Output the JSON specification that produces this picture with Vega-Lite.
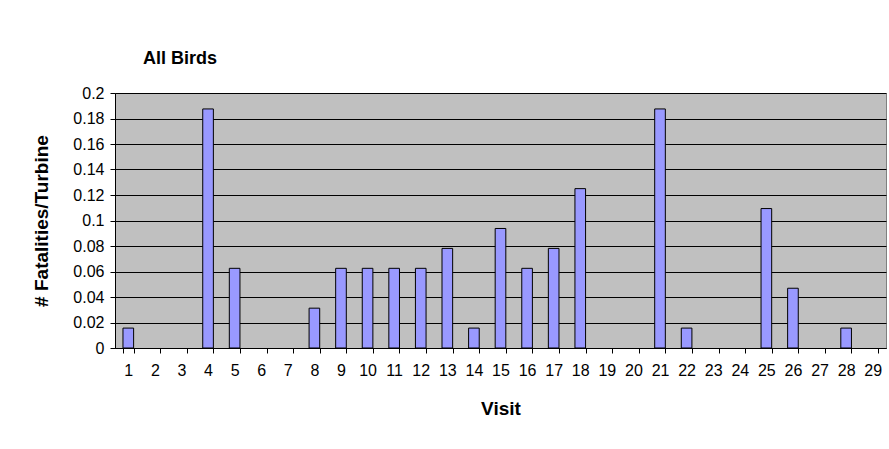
{
  "$schema": "https://vega.github.io/schema/vega-lite/v6.json",
  "width": 771,
  "height": 255,
  "autosize": "none",
  "padding": {"left": 115, "top": 93, "right": 3, "bottom": 101},
  "background": "white",
  "title": {
    "text": "All Birds",
    "anchor": "start",
    "frame": "group",
    "dx": 28,
    "offset": 17,
    "font": "Liberation Sans",
    "fontSize": 18,
    "fontWeight": "bold",
    "color": "black"
  },
  "data": {
    "values": [
      {"visit": 1, "rate": 0.015625},
      {"visit": 2, "rate": 0},
      {"visit": 3, "rate": 0},
      {"visit": 4, "rate": 0.1875},
      {"visit": 5, "rate": 0.0625},
      {"visit": 6, "rate": 0},
      {"visit": 7, "rate": 0},
      {"visit": 8, "rate": 0.03125},
      {"visit": 9, "rate": 0.0625},
      {"visit": 10, "rate": 0.0625},
      {"visit": 11, "rate": 0.0625},
      {"visit": 12, "rate": 0.0625},
      {"visit": 13, "rate": 0.078125},
      {"visit": 14, "rate": 0.015625},
      {"visit": 15, "rate": 0.09375},
      {"visit": 16, "rate": 0.0625},
      {"visit": 17, "rate": 0.078125},
      {"visit": 18, "rate": 0.125},
      {"visit": 19, "rate": 0},
      {"visit": 20, "rate": 0},
      {"visit": 21, "rate": 0.1875},
      {"visit": 22, "rate": 0.015625},
      {"visit": 23, "rate": 0},
      {"visit": 24, "rate": 0},
      {"visit": 25, "rate": 0.109375},
      {"visit": 26, "rate": 0.046875},
      {"visit": 27, "rate": 0},
      {"visit": 28, "rate": 0.015625},
      {"visit": 29, "rate": 0}
    ]
  },
  "mark": {"type": "bar", "fill": "#9999FF", "stroke": "black", "strokeWidth": 1},
  "encoding": {
    "x": {
      "field": "visit",
      "type": "ordinal",
      "title": "Visit",
      "scale": {"paddingInner": 0.6, "paddingOuter": 0.3},
      "axis": {
        "labelAngle": 0,
        "labelFont": "Liberation Sans",
        "labelFontSize": 16,
        "labelColor": "black",
        "labelPadding": 9,
        "tickBand": "extent",
        "tickColor": "black",
        "tickSize": 5,
        "domainColor": "black",
        "titleFont": "Liberation Sans",
        "titleFontSize": 19,
        "titleFontWeight": "bold",
        "titleColor": "black",
        "titlePadding": 21
      }
    },
    "y": {
      "field": "rate",
      "type": "quantitative",
      "title": "# Fatalities/Turbine",
      "scale": {"domain": [0, 0.2], "nice": false},
      "axis": {
        "values": [0, 0.02, 0.04, 0.06, 0.08, 0.1, 0.12, 0.14, 0.16, 0.18, 0.2],
        "format": ".2~f",
        "labelFont": "Liberation Sans",
        "labelFontSize": 16,
        "labelColor": "black",
        "labelPadding": 6,
        "tickColor": "black",
        "tickSize": 5,
        "domainColor": "black",
        "grid": true,
        "gridColor": "black",
        "gridOpacity": 1,
        "titleFont": "Liberation Sans",
        "titleFontSize": 19,
        "titleFontWeight": "bold",
        "titleColor": "black",
        "titlePadding": 21
      }
    },
    "strokeOpacity": {
      "condition": {"test": "datum.rate === 0", "value": 0},
      "value": 1
    }
  },
  "config": {
    "view": {"fill": "#C0C0C0", "stroke": "#808080", "strokeWidth": 1}
  }
}
